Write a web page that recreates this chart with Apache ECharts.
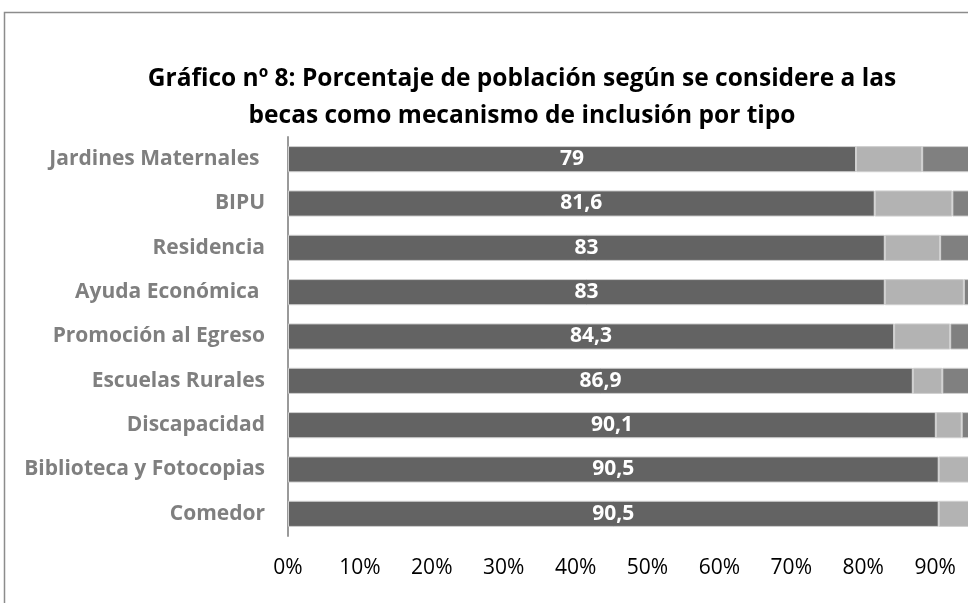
<!DOCTYPE html>
<html>
<head>
<meta charset="utf-8">
<script src="https://cdn.jsdelivr.net/npm/echarts@6/dist/echarts.min.js"></script>
<style>
  html, body { margin: 0; padding: 0; background: #fff; }
  #chart { width: 968px; height: 603px; }
</style>
</head>
<body>
<div id="chart"></div>
<script>
// categories, top to bottom
const categories = [
    'Jardines Maternales ', 'BIPU', 'Residencia', 'Ayuda Económica ',
    'Promoción al Egreso', 'Escuelas Rurales', 'Discapacidad',
    'Biblioteca y Fotocopias', 'Comedor'
];
// share that sees the grant as an inclusion mechanism (labelled)
const siValues = [79, 81.6, 83, 83, 84.3, 86.9, 90.1, 90.5, 90.5];
// second and third segments (right end is cropped)
const noValues = [9.2, 10.8, 7.7, 11, 7.8, 4.1, 3.6, 5.5, 5.5];
const nsncValues = [11.8, 7.6, 9.3, 6, 7.9, 9, 6.3, 4, 4];
const tickLabels = ['0%', '10%', '20%', '30%', '40%', '50%', '60%', '70%', '80%', '90%', '100%'];

const FONT = 'Open Sans';

const chart = echarts.init(document.getElementById('chart'));

const barBorder = { borderColor: '#d0d0d0', borderWidth: 1 };

const option = {
    animation: false,
    title: {
        text: 'Gráfico nº 8: Porcentaje de población según se considere a las\nbecas como mecanismo de inclusión por tipo',
        left: 517,
        top: 56,
        textAlign: 'center',
        textStyle: {
            fontFamily: FONT,
            fontSize: 24.5,
            fontWeight: 'bold',
            color: '#000',
            lineHeight: 37
        }
    },
    graphic: [{
        type: 'rect',
        shape: { x: 4.5, y: 12.5, width: 1200, height: 800 },
        style: { fill: 'none', stroke: '#8c8c8c', lineWidth: 1.5 },
        silent: true
    }],
    grid: {
        left: 288,
        top: 137,
        width: 719,
        height: 399,
        outerBoundsMode: 'none',
        containLabel: false
    },
    xAxis: {
        type: 'value',
        min: 0,
        max: 100,
        interval: 10,
        axisLine: { show: false },
        axisTick: { show: false },
        splitLine: { show: false },
        axisLabel: {
            formatter: v => tickLabels[Math.round(v / 10)],
            fontFamily: FONT,
            fontSize: 21,
            color: '#000',
            margin: 22
        }
    },
    yAxis: {
        type: 'category',
        data: categories,
        inverse: true,
        axisLine: { show: true, lineStyle: { color: '#9a9a9a', width: 2 } },
        axisTick: { show: false },
        axisLabel: {
            fontFamily: FONT,
            fontSize: 21,
            fontWeight: 'bold',
            color: '#7f7f7f',
            margin: 23
        }
    },
    series: [{
        name: 'Sí',
        type: 'bar',
        stack: 'total',
        data: siValues,
        barCategoryGap: '41%',
        itemStyle: Object.assign({ color: '#636363' }, barBorder),
        label: {
            show: true,
            position: 'inside',
            formatter: p => String(p.value).replace('.', ','),
            fontFamily: FONT,
            fontSize: 21,
            fontWeight: 'bold',
            color: '#fff'
        }
    }, {
        name: 'No',
        type: 'bar',
        stack: 'total',
        data: noValues,
        itemStyle: Object.assign({ color: '#b3b3b3' }, barBorder)
    }, {
        name: 'NS/NC',
        type: 'bar',
        stack: 'total',
        data: nsncValues,
        itemStyle: Object.assign({ color: '#808080' }, barBorder)
    }]
};

chart.setOption(option);
</script>
</body>
</html>
